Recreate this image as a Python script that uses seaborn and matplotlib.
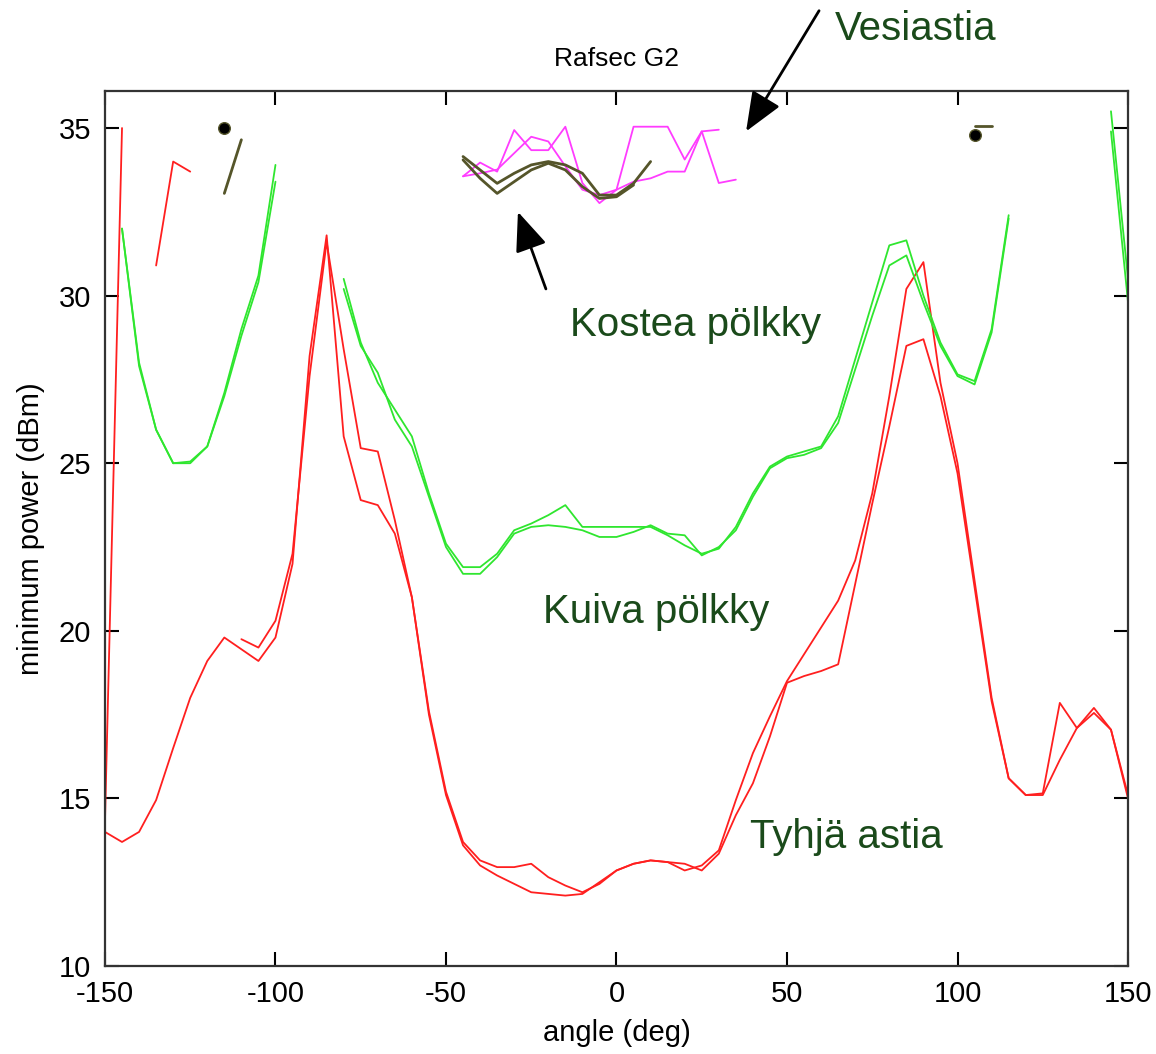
import numpy as np
import pandas as pd
import seaborn as sns
import matplotlib
matplotlib.use("Agg")
import matplotlib.pyplot as plt

nan = np.nan
angles = np.arange(-150, 151, 5)

# Tyhjä astia (empty vessel), two runs
tyhja_a = [14.0, 13.7, 14.0, 14.95, 16.5, 18.0, 19.1, 19.8, 19.45, 19.1,
           19.8, 22.0, 28.2, 31.8, 25.8, 23.9, 23.75, 22.9, 21.0, 17.6,
           15.2, 13.7, 13.15, 12.95, 12.95, 13.05, 12.65, 12.4, 12.2, 12.45,
           12.85, 13.05, 13.15, 13.1, 12.85, 13.0, 13.45, 14.95, 16.35, 17.45,
           18.5, 19.3, 20.1, 20.9, 22.1, 24.1, 27.0, 30.2, 31.0, 27.4,
           25.0, 21.5, 18.0, 15.6, 15.1, 15.1, 16.15, 17.1, 17.55, 17.05,
           15.1]
tyhja_b = [14.3, 35.0, nan, 30.9, 34.0, 33.7, nan, nan, 19.75, 19.5,
           20.3, 22.3, 27.6, 31.6, 28.4, 25.45, 25.35, 23.3, 21.0, 17.5,
           15.1, 13.6, 13.0, 12.7, 12.45, 12.2, 12.15, 12.1, 12.15, 12.5,
           12.85, 13.05, 13.15, 13.1, 13.05, 12.85, 13.35, 14.5, 15.45, 16.85,
           18.45, 18.65, 18.8, 19.0, 21.4, 23.8, 26.1, 28.5, 28.7, 27.0,
           24.7, 21.3, 17.9, 15.6, 15.1, 15.15, 17.85, 17.1, 17.7, 17.05,
           15.0]

# Kuiva pölkky (dry log), two runs
kuiva_a = [nan, 32.0, 28.0, 26.0, 25.0, 25.05, 25.5, 27.1, 29.0, 30.6,
           33.9, nan, nan, nan, 30.5, 28.6, 27.4, 26.6, 25.8, 24.1,
           22.6, 21.9, 21.9, 22.3, 23.0, 23.2, 23.45, 23.75, 23.1, 23.1,
           23.1, 23.1, 23.1, 22.85, 22.55, 22.3, 22.45, 23.1, 24.1, 24.9,
           25.2, 25.35, 25.5, 26.4, 28.1, 29.8, 31.5, 31.65, 30.0, 28.6,
           27.65, 27.45, 29.0, 32.4, nan, nan, nan, nan, nan, 34.9,
           29.8]
kuiva_b = [nan, 32.0, 27.9, 26.0, 25.0, 25.0, 25.5, 27.0, 28.8, 30.4,
           33.4, nan, nan, nan, 30.2, 28.5, 27.7, 26.3, 25.5, 24.0,
           22.5, 21.7, 21.7, 22.2, 22.9, 23.1, 23.15, 23.1, 23.0, 22.8,
           22.8, 22.95, 23.15, 22.9, 22.85, 22.25, 22.5, 23.0, 24.0, 24.85,
           25.15, 25.25, 25.45, 26.2, 27.8, 29.4, 30.9, 31.2, 29.8, 28.5,
           27.6, 27.35, 28.9, 32.3, nan, nan, nan, nan, nan, 35.5,
           30.5]

# Kostea pölkky (wet log)
kostea_angles = [-115, -110, -105, -45, -40, -35, -30, -25, -20, -15, -10, -5,
                 0, 5, 10, 15, 105, 110]
kostea_a = [33.05, 34.65, nan, 34.15, 33.75, 33.35, 33.65, 33.9, 34.0, 33.9,
            33.65, 33.0, 33.0, 33.35, 34.0, nan, 35.05, 35.05]
kostea_b = [nan, nan, nan, 34.05, 33.5, 33.05, 33.4, 33.75, 33.95, 33.75,
            33.25, 32.9, 32.95, 33.3, nan, nan, nan, nan]
kostea_dot_angles = [-115, 105]
kostea_dot_power = [35.0, 34.8]

# Vesiastia (water vessel)
vesi_angles = [-45, -40, -35, -30, -25, -20, -15, -10, -5, 0, 5, 10, 15, 20,
               25, 30, 35]
vesi_a = [33.56, 33.97, 33.7, 34.94, 34.34, 34.34, 35.04, 33.36, 32.76, 33.16,
          35.04, 35.04, 35.04, 34.06, 34.9, 33.36, 33.46]
vesi_b = [33.56, 33.65, 33.76, 34.25, 34.74, 34.6, 33.86, 33.16, 33.0, 33.16,
          33.4, 33.5, 33.7, 33.7, 34.9, 34.95, nan]

red = "#ff1f1f"
green = "#2fe62f"
magenta = "#ff3cff"
olive = "#55552a"
label_green = "#1a4a1a"

sns.set_theme(style="ticks")
plt.rcParams["font.family"] = ["Liberation Sans", "DejaVu Sans"]
plt.rcParams["axes.unicode_minus"] = False
plt.rcParams["text.color"] = "black"
plt.rcParams["axes.labelcolor"] = "black"

fig = plt.figure(figsize=(11.56, 10.54), dpi=100)
ax = fig.add_axes([0.0908, 0.0835, 0.885, 0.830])


def draw(x, y, color, lw=1.3):
    d = pd.DataFrame({"angle": x, "power": y})
    d["seg"] = d["power"].isna().cumsum()
    d = d.dropna()
    sns.lineplot(data=d, x="angle", y="power", units="seg", estimator=None,
                 color=color, lw=lw, sort=False, legend=False, ax=ax)


draw(angles, tyhja_a, red)
draw(angles, tyhja_b, red)
draw(angles, kuiva_a, green)
draw(angles, kuiva_b, green)
draw(vesi_angles, vesi_a, magenta)
draw(vesi_angles, vesi_b, magenta)
draw(kostea_angles, kostea_a, olive, lw=2.0)
draw(kostea_angles, kostea_b, olive, lw=2.0)
sns.scatterplot(x=kostea_dot_angles, y=kostea_dot_power, color="black",
                edgecolor=olive, s=70, linewidth=1, ax=ax, zorder=5)

ax.set_xlim(-150, 150)
ax.set_ylim(10, 36.1)
ax.set_xticks(np.arange(-150, 151, 50))
ax.set_yticks(np.arange(10, 36, 5))
ax.tick_params(direction="in", length=10, width=1.5, top=True, right=True,
               labelsize=21, pad=10, colors="black")
for s in ax.spines.values():
    s.set_linewidth(1.6)
    s.set_color("#333333")

ax.set_xlabel("angle (deg)", fontsize=21, labelpad=8, color="black")
ax.set_ylabel("minimum power (dBm)", fontsize=21, labelpad=10, color="black")
ax.set_title("Rafsec G2", fontsize=19, pad=18, color="black")

# annotations
ax.text(87.8, 37.95, "Vesiastia", fontsize=29, color=label_green,
        ha="center", va="center")
ax.text(23.3, 29.13, "Kostea pölkky", fontsize=29, color=label_green,
        ha="center", va="center")
ax.text(11.6, 20.57, "Kuiva pölkky", fontsize=29, color=label_green,
        ha="center", va="center")
ax.text(67.3, 13.85, "Tyhjä astia", fontsize=29, color=label_green,
        ha="center", va="center")

arrow = dict(arrowstyle="-|>,head_length=1.1,head_width=0.45", color="black",
             lw=2, mutation_scale=22, shrinkA=0, shrinkB=0)
ax.annotate("", xy=(38.0, 34.9), xytext=(59.4, 38.5), arrowprops=arrow,
            annotation_clip=False)
ax.annotate("", xy=(-28.9, 32.5), xytext=(-20.7, 30.2), arrowprops=arrow,
            annotation_clip=False)

fig.savefig("out.png", dpi=100)
